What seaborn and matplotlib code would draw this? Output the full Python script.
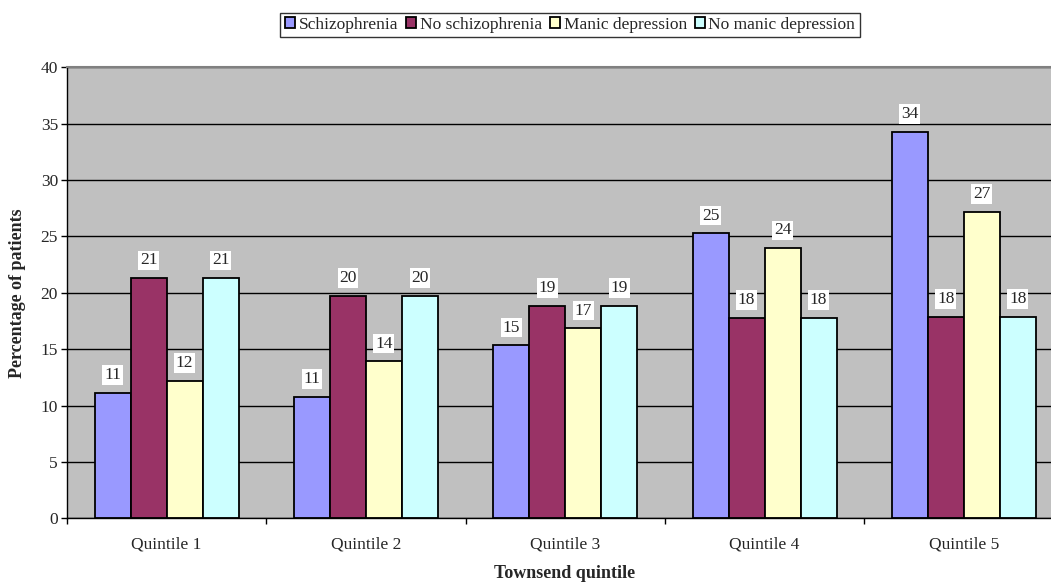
import seaborn as sns
import pandas as pd
import matplotlib.pyplot as plt

# Datos
quintiles = ['Quintile 1', 'Quintile 2', 'Quintile 3', 'Quintile 4', 'Quintile 5']
grupos = ['Schizophrenia', 'No schizophrenia', 'Manic depression', 'No manic depression']
schizophrenia = [11.14, 10.79, 15.34, 25.27, 34.29]
no_schizophrenia = [21.31, 19.75, 18.86, 17.80, 17.88]
manic_depression = [12.21, 13.92, 16.85, 23.97, 27.17]
no_manic_depression = [21.31, 19.75, 18.86, 17.80, 17.88]

colores = ['#9999FF', '#993366', '#FFFFCC', '#CCFFFF']


def construir_datos():
    filas = []
    for grupo, valores in zip(grupos, [schizophrenia, no_schizophrenia,
                                       manic_depression, no_manic_depression]):
        for q, v in zip(quintiles, valores):
            filas.append({'Quintil': q, 'Grupo': grupo, 'Porcentaje': v})
    return pd.DataFrame(filas)


def main():
    df = construir_datos()

    sns.set_style('white')
    plt.rcParams['font.family'] = ['Liberation Serif', 'DejaVu Serif']

    fig = plt.figure(figsize=(10.51, 5.85), dpi=100)
    ax = fig.add_axes([67 / 1051, 66.7 / 585, 996.5 / 1051, 451 / 585])
    ax.set_facecolor('#C0C0C0')

    sns.barplot(data=df, x='Quintil', y='Porcentaje', hue='Grupo',
                hue_order=grupos, order=quintiles, palette=colores,
                width=0.723, gap=0, edgecolor='black', linewidth=1.3,
                saturation=1, ax=ax, errorbar=None)

    # Etiquetas encima de cada barra
    for cont in ax.containers:
        ax.bar_label(cont, fmt='%.0f', padding=7, fontsize=12.5,
                     bbox=dict(facecolor='white', edgecolor='none', pad=1.2))

    ax.set_ylim(0, 40)
    ax.set_xlim(-0.5, 4.5)
    ax.set_yticks(range(0, 41, 5))
    ax.tick_params(axis='y', labelsize=12.5, length=4.5, width=1, color='black',
                   direction='out', left=True, pad=2)
    ax.tick_params(axis='x', which='major', labelsize=12.5, length=0, pad=13)
    ax.set_xticks([i + 0.5 for i in range(-1, 5)], minor=True)
    ax.tick_params(axis='x', which='minor', length=4.5, width=1, color='black',
                   direction='out', bottom=True)

    ax.grid(axis='y', color='black', linewidth=1)
    ax.grid(axis='x', visible=False)
    ax.set_axisbelow(True)

    for lado in ['left', 'bottom']:
        ax.spines[lado].set_color('black')
        ax.spines[lado].set_linewidth(1)
    ax.spines['top'].set_color('#808080')
    ax.spines['top'].set_linewidth(1.5)
    ax.spines['right'].set_visible(False)

    ax.set_xlabel('')
    ax.set_ylabel('')
    fig.text(18 / 1051, 1 - 293 / 585, 'Percentage of patients', rotation=90,
             ha='center', va='center', fontsize=13, fontweight='bold')
    fig.text(565 / 1051, 1 - 573 / 585, 'Townsend quintile',
             ha='center', va='center', fontsize=13, fontweight='bold')

    handles, labels = ax.get_legend_handles_labels()
    ax.get_legend().remove()
    leg = fig.legend(handles, labels, loc='center', ncol=4,
                     bbox_to_anchor=(570 / 1051, 1 - 25 / 585), fontsize=12.5,
                     frameon=True, fancybox=False, edgecolor='black',
                     handlelength=0.6, handleheight=0.6, handletextpad=0.2,
                     columnspacing=0.45, borderpad=0.25, borderaxespad=0)
    leg.get_frame().set_linewidth(1)

    fig.savefig('out.png', dpi=100)


if __name__ == "__main__":
    main()
